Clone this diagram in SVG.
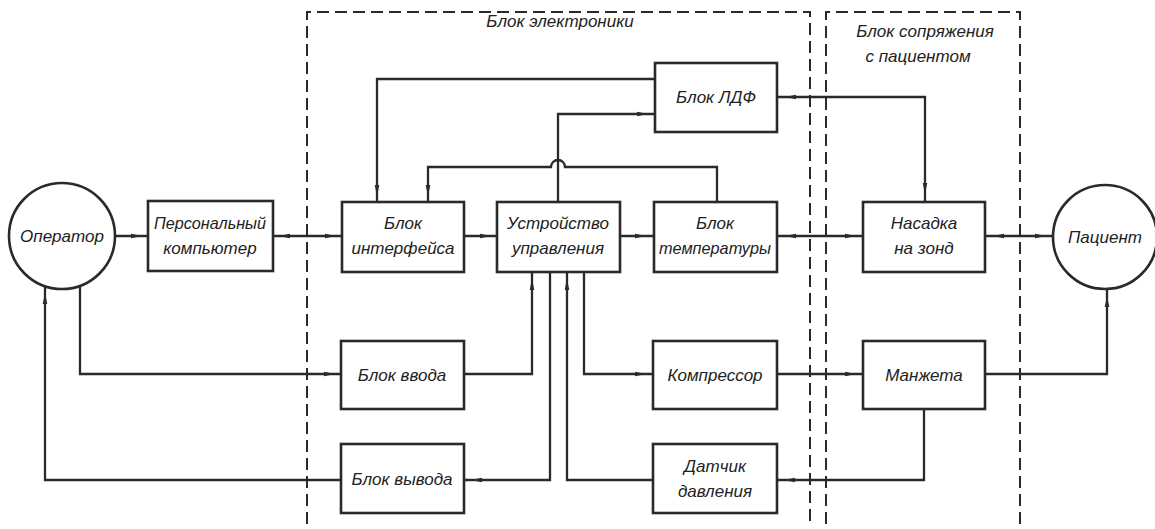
<svg xmlns="http://www.w3.org/2000/svg" xmlns:xlink="http://www.w3.org/1999/xlink" width="1155" height="529" viewBox="0 0 1155 529">
<style>
.n{fill:#fff;stroke:#2a2a2a;stroke-width:2.6}
.c{fill:none;stroke:#2a2a2a;stroke-width:2.3}
.d{fill:none;stroke:#2a2a2a;stroke-width:2;stroke-dasharray:12 6}
.t{font-family:"Liberation Sans",Arial,sans-serif;font-style:italic;font-size:17px;fill:#222;text-anchor:middle}
</style>
<defs>
<path id="ar" d="M0,0 L-11,-2.3 L-11,2.3 Z" fill="#2a2a2a"/>
</defs>
<rect width="1155" height="529" fill="#fff"/>
<g id="groups">
<path class="d" d="M307,524 L307,12 L810,12 L810,524"/>
<path class="d" d="M826,524 L826,12 L1020,12 L1020,524"/>
<text class="t" x="560" y="27">Блок электроники</text>
<text class="t" x="925" y="37">Блок сопряжения</text>
<text class="t" x="918" y="62">с пациентом</text>
</g>
<g id="connectors">
<path class="c" d="M114,236 H148"/>
<path class="c" d="M273,236 H342"/>
<path class="c" d="M464,236 H497"/>
<path class="c" d="M620,236 H654"/>
<path class="c" d="M777,236 H863"/>
<path class="c" d="M985,236 H1053"/>
<path class="c" d="M655,79 H377 V202"/>
<path class="c" d="M558,202 V114 H655"/>
<path class="c" d="M717,202 V167 H565 A7,7 0 0 0 551,167 H428 V202"/>
<path class="c" d="M925,202 V97 H777"/>
<path class="c" d="M80,286 V374 H341"/>
<path class="c" d="M464,374 H532 V272"/>
<path class="c" d="M550,272 V480 H464"/>
<path class="c" d="M341,480 H45 V286"/>
<path class="c" d="M653,480 H567 V272"/>
<path class="c" d="M584,272 V374 H653"/>
<path class="c" d="M777,374 H863"/>
<path class="c" d="M985,374 H1107 V289"/>
<path class="c" d="M924,409 V480 H777"/>
<use xlink:href="#ar" transform="translate(142,236)"/>
<use xlink:href="#ar" transform="translate(279,236) rotate(180)"/>
<use xlink:href="#ar" transform="translate(336,236)"/>
<use xlink:href="#ar" transform="translate(491,236)"/>
<use xlink:href="#ar" transform="translate(646,236)"/>
<use xlink:href="#ar" transform="translate(785,236) rotate(180)"/>
<use xlink:href="#ar" transform="translate(856,236)"/>
<use xlink:href="#ar" transform="translate(993,236) rotate(180)"/>
<use xlink:href="#ar" transform="translate(1046,236)"/>
<use xlink:href="#ar" transform="translate(377,196) rotate(90)"/>
<use xlink:href="#ar" transform="translate(428,196) rotate(90)"/>
<use xlink:href="#ar" transform="translate(648,114)"/>
<use xlink:href="#ar" transform="translate(785,97) rotate(180)"/>
<use xlink:href="#ar" transform="translate(925,194) rotate(90)"/>
<use xlink:href="#ar" transform="translate(335,374)"/>
<use xlink:href="#ar" transform="translate(532,279) rotate(-90)"/>
<use xlink:href="#ar" transform="translate(567,279) rotate(-90)"/>
<use xlink:href="#ar" transform="translate(471,480) rotate(180)"/>
<use xlink:href="#ar" transform="translate(45,293) rotate(-90)"/>
<use xlink:href="#ar" transform="translate(646,374)"/>
<use xlink:href="#ar" transform="translate(856,374)"/>
<use xlink:href="#ar" transform="translate(1107,296) rotate(-90)"/>
<use xlink:href="#ar" transform="translate(784,480) rotate(180)"/>
</g>
<g id="operator"><circle class="n" cx="62" cy="236" r="53"/><text class="t" x="62" y="242">Оператор</text></g>
<g id="patient"><circle class="n" cx="1105" cy="237" r="52"/><text class="t" x="1105" y="243">Пациент</text></g>
<g id="pc"><rect class="n" x="148" y="201" width="125" height="70"/><text class="t" x="210" y="229" textLength="112" lengthAdjust="spacingAndGlyphs">Персональный</text><text class="t" x="210" y="254">компьютер</text></g>
<g id="interface"><rect class="n" x="342" y="202" width="122" height="70"/><text class="t" x="403" y="229">Блок</text><text class="t" x="403" y="254">интерфейса</text></g>
<g id="control"><rect class="n" x="497" y="202" width="123" height="70"/><text class="t" x="558" y="229">Устройство</text><text class="t" x="558" y="254">управления</text></g>
<g id="temperature"><rect class="n" x="654" y="202" width="123" height="70"/><text class="t" x="715" y="229">Блок</text><text class="t" x="715" y="254" textLength="112" lengthAdjust="spacingAndGlyphs">температуры</text></g>
<g id="ldf"><rect class="n" x="655" y="63" width="122" height="69"/><text class="t" x="716" y="103">Блок ЛДФ</text></g>
<g id="nasadka"><rect class="n" x="863" y="202" width="122" height="70"/><text class="t" x="924" y="229">Насадка</text><text class="t" x="924" y="254">на зонд</text></g>
<g id="input"><rect class="n" x="341" y="341" width="123" height="68"/><text class="t" x="402" y="381">Блок ввода</text></g>
<g id="output"><rect class="n" x="341" y="444" width="123" height="69"/><text class="t" x="402" y="485">Блок вывода</text></g>
<g id="compressor"><rect class="n" x="653" y="341" width="124" height="68"/><text class="t" x="715" y="381">Компрессор</text></g>
<g id="sensor"><rect class="n" x="653" y="444" width="124" height="69"/><text class="t" x="715" y="472">Датчик</text><text class="t" x="715" y="497">давления</text></g>
<g id="cuff"><rect class="n" x="863" y="341" width="122" height="68"/><text class="t" x="924" y="381">Манжета</text></g>
</svg>
